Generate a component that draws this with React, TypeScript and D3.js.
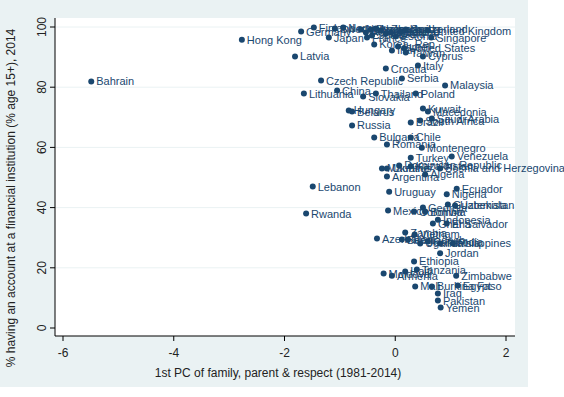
import React from 'react';
import * as d3 from 'd3';

// country labels, PC score (x) and % with account (y)
const countries = [
  'Bahrain', 'Hong Kong', 'Finland', 'Germany', 'Japan', 'Latvia', 'Sweden', 'Norway',
  'New Zealand', 'Australia', 'Denmark', 'Netherlands', 'Canada', 'Austria', 'Belgium', 'Spain',
  'France', 'Estonia', 'Ireland', 'Switzerland', 'United Kingdom', 'Singapore', 'Korea, Rep.', 'Israel',
  'Iran', 'United States', 'Taiwan', 'Cyprus', 'Italy', 'Croatia', 'Serbia', 'Czech Republic',
  'Malaysia', 'Lithuania', 'China', 'Slovakia', 'Thailand', 'Poland', 'Hungary', 'Belarus',
  'Russia', 'Kuwait', 'Macedonia', 'Brazil', 'South Africa', 'Saudi Arabia', 'Bulgaria', 'Chile',
  'Romania', 'Montenegro', 'Turkey', 'Venezuela', 'Mauritius', 'Ukraine', 'Dominican Republic', 'Kazakhstan',
  'Bosnia and Herzegovina', 'Algeria', 'Argentina', 'Lebanon', 'Uruguay', 'Ecuador', 'Nigeria', 'Rwanda',
  'Mexico', 'Colombia', 'Georgia', 'Bolivia', 'Guatemala', 'Uzbekistan', 'Indonesia', 'Ghana',
  'El Salvador', 'Zambia', 'Vietnam', 'Azerbaijan', 'Bangladesh', 'Peru', 'Uganda', 'Cambodia',
  'Tunisia', 'Philippines', 'Jordan', 'Ethiopia', 'Moldova', 'Armenia', 'Haiti', 'Tanzania',
  'Zimbabwe', 'Mali', 'Burkina Faso', 'Egypt', 'Iraq', 'Pakistan', 'Yemen',
];

const pcScore = [
  -5.49, -2.77, -1.47, -1.70, -1.20, -1.81, -1.09, -0.94,
  -0.62, -0.53, -0.44, -0.35, -0.26, -0.17, -0.08, -0.42,
  -0.51, 0.01, 0.10, 0.19, 0.59, 0.65, -0.38, 0.05,
  -0.06, 0.16, 0.19, 0.50, 0.41, -0.17, 0.12, -1.34,
  0.90, -1.65, -1.05, -0.58, -0.35, 0.37, -0.84, -0.78,
  -0.78, 0.50, 0.59, 0.28, 0.45, 0.66, -0.38, 0.28,
  -0.15, 0.48, 0.28, 1.02, -0.24, -0.15, 0.07, 0.28,
  0.81, 0.54, -0.15, -1.49, -0.11, 1.11, 0.93, -1.61,
  -0.13, 0.34, 0.50, 0.54, 0.95, 1.08, 0.77, 0.68,
  0.93, 0.18, 0.35, -0.33, 0.12, 0.23, 0.45, 0.59,
  0.81, 1.04, 0.81, 0.34, -0.21, -0.06, 0.18, 0.39,
  1.10, 0.36, 0.66, 1.13, 0.77, 0.77, 0.82,
];

const accountPct = [
  81.9, 95.8, 99.8, 98.5, 96.5, 90.2, 99.5, 99.8,
  99.2, 98.2, 99.2, 99.5, 98.8, 97.8, 98.2, 97.2,
  96.5, 96.9, 98.5, 99.2, 98.8, 96.5, 94.2, 93.5,
  92.2, 92.9, 91.5, 90.2, 87.2, 86.2, 82.9, 82.2,
  80.6, 77.9, 78.9, 76.9, 77.9, 77.9, 72.3, 71.9,
  67.3, 72.9, 71.9, 68.3, 68.9, 69.6, 63.3, 63.3,
  61.0, 59.9, 56.6, 57.0, 53.0, 53.0, 54.0, 53.7,
  53.0, 51.0, 50.3, 47.0, 45.3, 46.3, 44.4, 38.0,
  39.0, 38.7, 40.0, 38.7, 41.0, 40.7, 36.0, 34.7,
  34.7, 31.7, 31.1, 29.7, 29.4, 29.4, 28.1, 28.7,
  28.1, 28.1, 24.8, 22.1, 18.1, 17.4, 18.8, 19.4,
  17.4, 13.8, 13.8, 14.1, 11.5, 9.1, 6.8,
];

const xTicks = [-6, -4, -2, 0, 2];
const yTicks = [0, 20, 40, 60, 80, 100];

const navy = '#1a476f';
const bg = '#eaf2f3';
const font = 'Arial, "Liberation Sans", sans-serif';

const W = 564;
const H = 397;
const plot = { left: 55, right: 515, top: 18, bottom: 336 };

export default function App() {
  const x = d3.scaleLinear().domain([-6, 2]).range([63, 506]);
  const y = d3.scaleLinear().domain([0, 100]).range([328, 27]);

  const points = countries.map((name, i) => ({ name, px: x(pcScore[i]), py: y(accountPct[i]) }));

  return (
    <svg width={W} height={H} style={{ position: 'absolute', left: 0, top: 0, background: '#fff' }}
      fontFamily={font}>
      <rect x={0} y={0} width={528} height={387} fill={bg} />
      <rect x={plot.left} y={plot.top} width={plot.right - plot.left} height={plot.bottom - plot.top} fill="#fff" />

      {/* grid */}
      {yTicks.filter(t => t > 0).map(t => (
        <line key={'g' + t} x1={plot.left} x2={plot.right} y1={y(t)} y2={y(t)} stroke={bg} strokeWidth={1} />
      ))}

      {/* axes */}
      <line x1={plot.left} x2={plot.left} y1={plot.top} y2={plot.bottom} stroke="#000" />
      <line x1={plot.left} x2={plot.right} y1={plot.bottom} y2={plot.bottom} stroke="#000" />

      {yTicks.map(t => (
        <g key={'y' + t}>
          <line x1={plot.left - 5} x2={plot.left} y1={y(t)} y2={y(t)} stroke="#000" />
          <text transform={`translate(${plot.left - 9},${y(t)}) rotate(-90)`} textAnchor="middle"
            fontSize={12} fill="#222">{t}</text>
        </g>
      ))}
      {xTicks.map(t => (
        <g key={'x' + t}>
          <line x1={x(t)} x2={x(t)} y1={plot.bottom} y2={plot.bottom + 5} stroke="#000" />
          <text x={x(t)} y={plot.bottom + 21} textAnchor="middle" fontSize={12} fill="#222">{t}</text>
        </g>
      ))}

      <text x={278} y={377} textAnchor="middle" fontSize={12} fill="#222">
        1st PC of family, parent &amp; respect (1981-2014)
      </text>
      <text transform={`translate(15,198) rotate(-90)`} textAnchor="middle" fontSize={12} fill="#222">
        % having an account at a financial institution (% age 15+), 2014
      </text>

      {/* markers and labels */}
      {points.map(p => (
        <g key={p.name}>
          <circle cx={p.px} cy={p.py} r={3} fill={navy} />
          <text x={p.px + 5} y={p.py + 4} fontSize={11} fill={navy}>{p.name}</text>
        </g>
      ))}
    </svg>
  );
}
